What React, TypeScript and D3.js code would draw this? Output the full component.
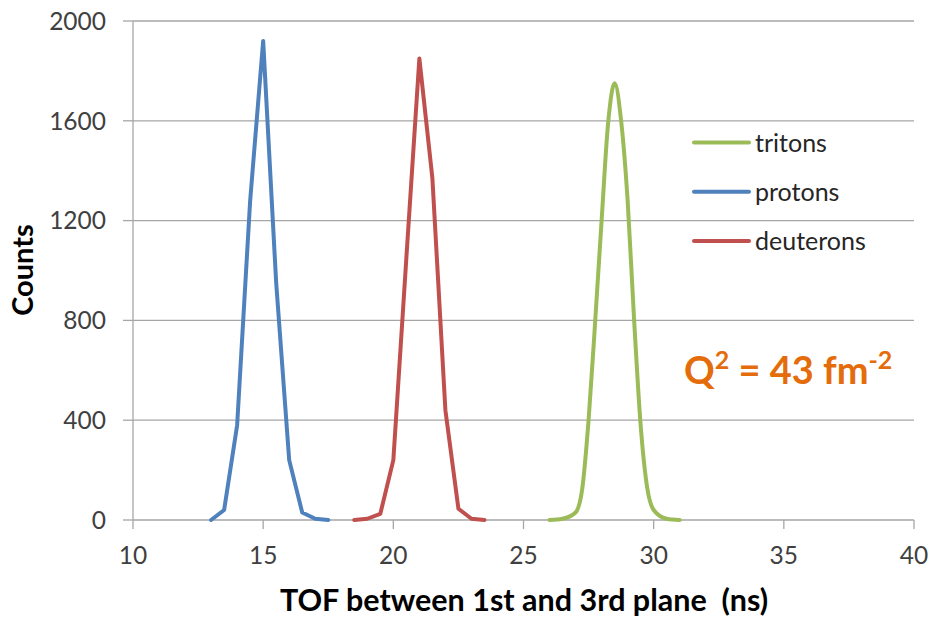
import React from "react";
import * as d3 from "d3";

const protonsX = [13, 13.5, 14, 14.5, 15, 15.5, 16, 16.5, 17, 17.5];
const protons = [0, 40, 380, 1280, 1920, 950, 240, 30, 5, 0];

const deuteronsX = [18.5, 19, 19.5, 20, 20.5, 21, 21.5, 22, 22.5, 23, 23.5];
const deuterons = [0, 5, 25, 240, 1050, 1850, 1370, 440, 45, 5, 0];

const tritonsX = [26, 26.5, 27, 27.25, 27.5, 27.75, 28, 28.25, 28.5, 28.75, 29, 29.25, 29.5, 29.75, 30, 30.5, 31];
const tritons = [0, 5, 30, 120, 400, 790, 1200, 1590, 1750, 1600, 1280, 800, 380, 130, 40, 5, 0];

const xTicks = [10, 15, 20, 25, 30, 35, 40];
const yTicks = [0, 400, 800, 1200, 1600, 2000];

const legendNames = ["tritons", "protons", "deuterons"];
const colors: Record<string, string> = {
  tritons: "#9bbb59",
  protons: "#4f81bd",
  deuterons: "#c0504d",
};

const W = 932;
const H = 618;
const left = 133;
const right = 914;
const top = 21;
const bottom = 520;
const FONT = "Lato, 'Open Sans', sans-serif";

export default function App() {
  const x = d3.scaleLinear().domain([10, 40]).range([left, right]);
  const y = d3.scaleLinear().domain([0, 2000]).range([bottom, top]);

  const straight = d3
    .line<[number, number]>()
    .x((d) => x(d[0]))
    .y((d) => y(d[1]));
  const smooth = d3
    .line<[number, number]>()
    .x((d) => x(d[0]))
    .y((d) => y(d[1]))
    .curve(d3.curveMonotoneX);

  const pts = (xs: number[], ys: number[]) =>
    xs.map((v, i) => [v, ys[i]] as [number, number]);

  const grid = "#a6a6a6";

  return (
    <svg
      width={W}
      height={H}
      style={{ position: "absolute", left: 0, top: 0, background: "#fff" }}
      fontFamily={FONT}
    >
      {/* gridlines */}
      {yTicks
        .filter((t) => t > 0)
        .map((t) => (
          <line
            key={"g" + t}
            x1={left}
            x2={right}
            y1={y(t)}
            y2={y(t)}
            stroke={grid}
            strokeWidth={1.3}
          />
        ))}
      {/* axes */}
      <line x1={left} x2={right} y1={bottom} y2={bottom} stroke={grid} strokeWidth={1.3} />
      <line x1={left} x2={left} y1={top} y2={bottom} stroke={grid} strokeWidth={1.3} />
      {yTicks.map((t) => (
        <g key={"y" + t}>
          <line x1={left - 10} x2={left} y1={y(t)} y2={y(t)} stroke={grid} strokeWidth={1.3} />
          <text
            x={106}
            y={y(t)}
            dy="0.36em"
            textAnchor="end"
            fontSize={24.5}
            fill="#404040"
          >
            {t}
          </text>
        </g>
      ))}
      {xTicks.map((t) => (
        <g key={"x" + t}>
          <line x1={x(t)} x2={x(t)} y1={bottom} y2={bottom + 9} stroke={grid} strokeWidth={1.3} />
          <text
            x={x(t)}
            y={564}
            textAnchor="middle"
            fontSize={24.5}
            fill="#404040"
          >
            {t}
          </text>
        </g>
      ))}

      {/* series */}
      <path
        d={smooth(pts(tritonsX, tritons)) || ""}
        fill="none"
        stroke={colors.tritons}
        strokeWidth={4}
        strokeLinejoin="round"
        strokeLinecap="round"
      />
      <path
        d={straight(pts(protonsX, protons)) || ""}
        fill="none"
        stroke={colors.protons}
        strokeWidth={4}
        strokeLinejoin="round"
        strokeLinecap="round"
      />
      <path
        d={straight(pts(deuteronsX, deuterons)) || ""}
        fill="none"
        stroke={colors.deuterons}
        strokeWidth={4}
        strokeLinejoin="round"
        strokeLinecap="round"
      />

      {/* legend */}
      {legendNames.map((n, i) => {
        const ly = 142.5 + i * 49.2;
        return (
          <g key={n}>
            <line
              x1={694}
              x2={749}
              y1={ly}
              y2={ly}
              stroke={colors[n]}
              strokeWidth={4}
              strokeLinecap="round"
            />
            <text x={755} y={ly} dy="0.36em" fontSize={25} fill="#262626">
              {n}
            </text>
          </g>
        );
      })}

      {/* annotation */}
      <text x={684} y={384} fontSize={38} fontWeight="bold" fill="#e46c0a" style={{ whiteSpace: "pre" }}>
        Q<tspan fontSize={25} dy={-15}>2</tspan>
        <tspan dy={15}>{" = 43 fm"}</tspan>
        <tspan fontSize={25} dy={-15}>-2</tspan>
      </text>

      {/* axis titles */}
      <text
        x={524}
        y={611}
        textAnchor="middle"
        fontSize={30.5}
        fontWeight="bold"
        fill="#000"
        style={{ whiteSpace: "pre" }}
      >
        {"TOF between 1st and 3rd plane  (ns)"}
      </text>
      <text
        transform={`translate(33, 270) rotate(-90)`}
        textAnchor="middle"
        fontSize={29}
        fontWeight="bold"
        fill="#000"
      >
        Counts
      </text>
    </svg>
  );
}
